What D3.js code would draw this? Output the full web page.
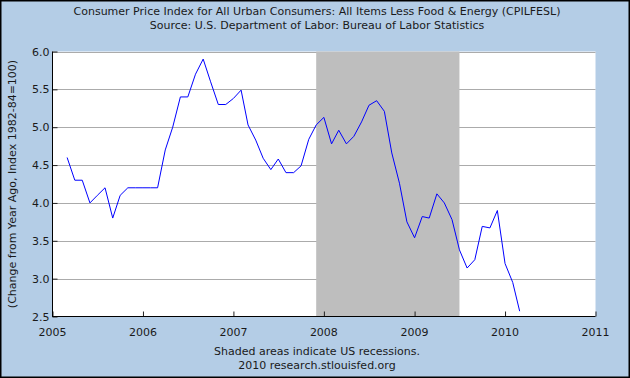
<!DOCTYPE html>
<html>
<head>
<meta charset="utf-8">
<script src="https://cdn.jsdelivr.net/npm/d3@7"></script>
<style>
  html, body { margin: 0; padding: 0; background: #B4CDE6; }
  svg { display: block; }
  text { font-family: "DejaVu Sans", sans-serif; fill: #1a1a1a; }
</style>
</head>
<body>
<svg id="chart" width="630" height="378"></svg>
<script>
// ---- Data ----
const startMonth = "2005-03";   // first observation
const values = [
  // 2005 Mar..Dec
  4.6, 4.3, 4.3, 4.0, 4.1, 4.2, 3.8, 4.1, 4.2, 4.2,
  // 2006
  4.2, 4.2, 4.2, 4.7, 5.0, 5.4, 5.4, 5.7, 5.9, 5.6, 5.3, 5.3,
  // 2007
  5.38, 5.49, 5.03, 4.83, 4.59, 4.44, 4.58, 4.4, 4.4, 4.49, 4.84, 5.03,
  // 2008
  5.13, 4.78, 4.96, 4.78, 4.88, 5.07, 5.29, 5.35, 5.21, 4.66, 4.26, 3.75,
  // 2009
  3.54, 3.82, 3.80, 4.12, 4.0, 3.78, 3.38, 3.14, 3.25, 3.69, 3.67, 3.90,
  // 2010 Jan..Mar
  3.20, 2.95, 2.57
];
const recessions = [["2007-12-01", "2009-07-01"]];
const yTicks = [2.5, 3.0, 3.5, 4.0, 4.5, 5.0, 5.5, 6.0];
const xTickYears = [2005, 2006, 2007, 2008, 2009, 2010, 2011];
const titleLines = [
  "Consumer Price Index for All Urban Consumers: All Items Less Food & Energy (CPILFESL)",
  "Source: U.S. Department of Labor: Bureau of Labor Statistics"
];
const yLabel = "(Change from Year Ago, Index 1982-84=100)";
const footerLines = ["Shaded areas indicate US recessions.", "2010 research.stlouisfed.org"];

// ---- Build ----
const W = 630, H = 378;
const plot = { left: 52.5, right: 595.5, top: 51.5, bottom: 316.5 };
const parse = d3.timeParse("%Y-%m-%d");
const start = d3.timeParse("%Y-%m")(startMonth);
const data = values.map((v, i) => ({ date: d3.timeMonth.offset(start, i), value: v }));

const x = d3.scaleTime()
  .domain([new Date(2005, 0, 1), new Date(2011, 0, 1)])
  .range([plot.left, plot.right]);
const y = d3.scaleLinear().domain([2.5, 6.0]).range([plot.bottom, plot.top]);

const svg = d3.select("#chart");

svg.append("rect").attr("x", 0).attr("y", 0).attr("width", W).attr("height", H)
  .attr("fill", "#B4CDE6");

// plot background
svg.append("rect")
  .attr("x", plot.left).attr("y", plot.top)
  .attr("width", plot.right - plot.left).attr("height", plot.bottom - plot.top)
  .attr("fill", "#ffffff");

// gridlines
svg.append("g").selectAll("line").data(yTicks.filter(d => d > 2.5)).join("line")
  .attr("x1", plot.left).attr("x2", plot.right)
  .attr("y1", d => Math.round(y(d)) + 0.5).attr("y2", d => Math.round(y(d)) + 0.5)
  .attr("stroke", "#ababab").attr("stroke-width", 1);

// recession shading
svg.append("g").selectAll("rect").data(recessions).join("rect")
  .attr("x", d => x(parse(d[0])))
  .attr("width", d => x(parse(d[1])) - x(parse(d[0])))
  .attr("y", plot.top).attr("height", plot.bottom - plot.top)
  .attr("fill", "#BEBEBE");

// y axis (ticks inward)
const yAxis = d3.axisRight(y).tickValues(yTicks).tickSize(5).tickFormat("");
const gy = svg.append("g").attr("transform", `translate(${plot.left},0)`).call(yAxis);
gy.select(".domain").remove();
gy.selectAll(".tick line").attr("stroke", "#222");
svg.append("g").selectAll("text").data(yTicks).join("text")
  .attr("x", plot.left - 3).attr("y", d => y(d) + 4)
  .attr("text-anchor", "end").attr("font-size", "11px")
  .text(d => d3.format(".1f")(d));

// x axis (ticks inward)
const xAxis = d3.axisTop(x).tickValues(xTickYears.map(yr => new Date(yr, 0, 1)))
  .tickSize(5).tickFormat("");
const gx = svg.append("g").attr("transform", `translate(0,${plot.bottom})`).call(xAxis);
gx.select(".domain").remove();
gx.selectAll(".tick line").attr("stroke", "#222");
svg.append("g").selectAll("text").data(xTickYears).join("text")
  .attr("x", d => x(new Date(d, 0, 1))).attr("y", plot.bottom + 19)
  .attr("text-anchor", "middle").attr("font-size", "11px")
  .text(d => d);

// axis lines (left + bottom)
svg.append("line").attr("x1", plot.left).attr("x2", plot.left)
  .attr("y1", plot.top).attr("y2", plot.bottom + 0.5).attr("stroke", "#000");
svg.append("line").attr("x1", plot.left).attr("x2", plot.right)
  .attr("y1", plot.bottom).attr("y2", plot.bottom).attr("stroke", "#000");

// series line
svg.append("path").datum(data)
  .attr("fill", "none").attr("stroke", "#0000ff").attr("stroke-width", 1)
  .attr("d", d3.line().x(d => x(d.date)).y(d => y(d.value)));

// titles
svg.append("g").selectAll("text").data(titleLines).join("text")
  .attr("x", 317).attr("y", (d, i) => 15 + i * 13.5)
  .attr("text-anchor", "middle").attr("font-size", "11px")
  .text(d => d);

// y label
svg.append("text")
  .attr("transform", `translate(16,${(plot.top + plot.bottom) / 2}) rotate(-90)`)
  .attr("text-anchor", "middle").attr("font-size", "11px")
  .text(yLabel);

// footer
svg.append("g").selectAll("text").data(footerLines).join("text")
  .attr("x", 317).attr("y", (d, i) => 355 + i * 13.5)
  .attr("text-anchor", "middle").attr("font-size", "11px")
  .text(d => d);

// outer border
svg.append("rect").attr("x", 0.75).attr("y", 0.75).attr("width", W - 1.5).attr("height", H - 1.5)
  .attr("fill", "none").attr("stroke", "#000").attr("stroke-width", 1.5);
</script>
</body>
</html>
